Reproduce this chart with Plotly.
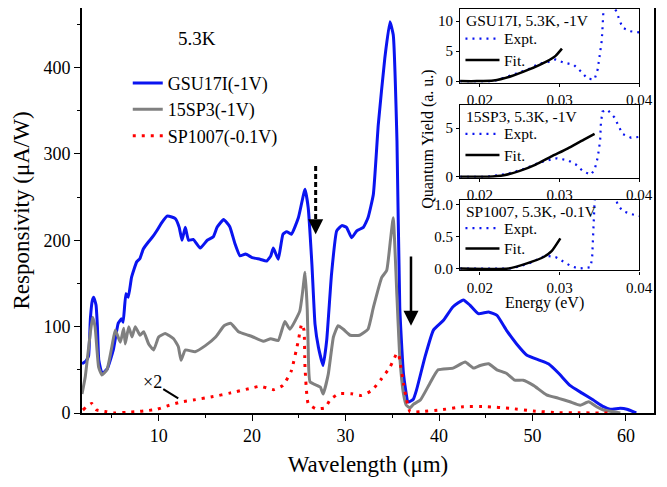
import plotly.graph_objects as go

# ---------------- main panel data ----------------
blue_x = [1.8, 2.2, 2.5, 2.7, 2.9, 3.05, 3.3, 3.45, 3.6, 3.95, 4.5, 5.15, 5.68, 6.04, 6.2, 6.5, 6.75,
          7.1, 7.65, 8.0, 8.36, 8.9, 9.43, 9.8, 10.3, 10.9, 11.4, 11.8, 12.2, 12.5, 12.85, 13.2,
          13.7, 14.45, 15.2, 15.85, 16.25, 16.95, 17.6, 18.2, 18.7, 19.3, 20.0, 20.85, 21.56, 22.0,
          22.27, 22.8, 23.3, 23.7, 24.2, 24.95, 25.66, 26.0, 26.4, 26.73, 27.1, 27.6, 27.98, 28.5,
          29.05, 29.6, 30.1, 30.65, 31.2, 31.9, 32.4, 32.97, 33.5, 34.2, 34.75, 35.1, 35.5, 35.8,
          36.2, 36.7, 37.25, 37.6, 38.5, 39.4, 40.45, 41.5, 42.6, 43.3, 44.2, 45.3, 46.2, 47.2,
          48.3, 49.4, 50.8, 51.7, 52.8, 54.0, 55.3, 56.5, 57.6, 58.3, 59.4, 60.1, 61.1]
blue_y = [57, 60, 66, 110, 130, 134, 125, 100, 61, 46, 51, 73, 104, 109, 105, 138, 134,
          157, 175, 179, 190, 198, 205, 211, 220, 228, 227, 225, 215, 200, 215, 200,
          201, 191, 200, 204, 215, 224, 216, 195, 182, 184, 180, 178, 176, 182,
          191, 178, 207, 210, 207, 226, 259, 238, 172, 103, 76, 55, 84, 161,
          211, 217, 215, 203, 211, 215, 226, 253, 334, 411, 453, 438, 315, 122,
          45, 12.7, 16, 27, 65, 96, 107, 123, 131, 125, 115, 117, 113, 96,
          80, 67, 61, 57, 46, 32, 23, 15, 7.3, 4.3, 5.4, 4.3, 0]

gray_x = [1.8, 2.15, 2.68, 2.94, 3.2, 3.58, 3.94, 4.47, 5.0, 5.36, 5.9, 6.26, 6.43, 6.8, 7.15, 7.5,
          8.0, 8.4, 8.93, 9.47, 10.0, 10.7, 11.6, 12.1, 12.4, 12.85, 13.9, 15.0, 16.1, 17.0, 17.7,
          18.55, 19.6, 20.1, 21.2, 22.0, 22.8, 23.5, 24.05, 25.1, 25.4, 25.66, 25.9, 26.0, 26.2,
          27.3, 27.6, 28.15, 28.7, 29.2, 29.76, 30.5, 31.5, 32.4, 32.97, 33.87, 34.4, 34.8, 35.1,
          35.5, 35.8, 36.2, 36.5, 36.9, 37.25, 38.0, 39.0, 39.9, 41.5, 42.8, 43.7, 44.4, 45.3,
          46.2, 47.2, 48.1, 49.0, 50.1, 51.5, 52.8, 54.0, 55.1, 56.0, 56.9, 57.6, 59.4]
gray_y = [22, 42, 92, 111, 100, 53, 44, 50, 77, 96, 82, 98, 80, 100, 88, 100,
          90, 94, 80, 73, 88, 92, 86, 77, 61, 73, 71, 78, 88, 101, 104,
          94, 90, 88, 83, 86, 84, 106, 97, 118, 140, 163, 120, 76, 36,
          30, 22, 45, 88, 101, 97, 90, 90, 97, 122, 157, 165, 200, 226,
          134, 65, 22, 9, 6, 10, 15, 34, 50, 52, 59, 52, 55, 57,
          50, 46, 38, 38, 32, 21, 17, 13, 9, 13, 7, 3.5, 0]

red_x = [1.9, 2.84, 3.37, 4.44, 5.33, 6.58, 7.65, 8.72, 9.8, 10.86, 12.47, 13.7, 15.85, 17.6, 19.8,
         20.85, 21.9, 22.3, 23.3, 24.2, 24.95, 25.3, 25.55, 25.66, 26.0, 26.8, 27.8, 28.4, 29.3,
         30.65, 31.7, 32.8, 33.87, 34.75, 35.46, 35.65, 35.8, 36.2, 36.5, 36.9, 38.0, 40.1, 42.6,
         45.1, 47.6, 50.1, 52.6, 55.0, 58.3]
red_y = [3.5, 11, 3.5, 1.5, 0, 0.8, 1.5, 2.7, 4.2, 8, 13, 15, 19, 23, 28.5,
         31, 28, 27, 32, 49, 84, 103, 96, 53, 11, 5, 6, 16, 22.5,
         22.3, 20.4, 26, 40, 53, 68.5, 69, 61, 34, 16.5, 1.5, 1.5, 3.5, 7.3,
         7.3, 5.4, 2.3, 0.4, 0.2, 0]

# ---------------- inset data (quantum yield vs energy) ----------------
e1_expt = [0.0175, 0.0196, 0.0217, 0.024, 0.0261, 0.0274, 0.0284, 0.0295, 0.0305, 0.0318, 0.0327,
           0.0335, 0.0344, 0.0348, 0.0351, 0.0353, 0.0354, 0.0355, 0.0362, 0.0371, 0.0379, 0.0389, 0.04]
q1_expt = [0, 0, 0, 1.0, 2.0, 2.9, 3.1, 3.6, 3.1, 2.7, 1.6, 0.4, 0.3, 2.0, 4.4, 6.7, 8.9, 11.4, 13.5,
           11.7, 8.9, 8.3, 8.1]
e1_fit = [0.0175, 0.0196, 0.0217, 0.024, 0.0261, 0.0284, 0.0295, 0.0303]
q1_fit = [0, 0, 0.1, 0.85, 1.9, 3.3, 4.2, 5.4]

e2_expt = [0.0175, 0.0208, 0.0235, 0.0255, 0.0276, 0.0297, 0.031, 0.032, 0.0329, 0.0339, 0.0344,
           0.0348, 0.0351, 0.0352, 0.0354, 0.036, 0.0369, 0.0379, 0.039, 0.04]
q2_expt = [0, 0, 0.3, 0.8, 1.5, 1.9, 1.7, 1.3, 0.6, 0.2, 0.7, 2.0, 3.7, 5.6, 6.7, 6.9, 6.1, 4.4, 4.0, 4.1]
e2_fit = [0.0175, 0.021, 0.023, 0.025, 0.027, 0.029, 0.031, 0.033, 0.0344]
q2_fit = [0, 0, 0.15, 0.6, 1.25, 2.1, 2.9, 3.8, 4.4]

e3_expt = [0.0175, 0.024, 0.0262, 0.0282, 0.0295, 0.0305, 0.0314, 0.0324, 0.0339, 0.0341, 0.0342,
           0.0343, 0.0344, 0.0346, 0.036, 0.0373, 0.0379, 0.039, 0.04]
q3_expt = [0, 0, 0.08, 0.2, 0.18, 0.1, 0.04, 0, 0.02, 0.18, 0.44, 0.7, 1.03, 1.3, 1.5, 1.0, 0.9, 0.85, 0.82]
e3_fit = [0.0175, 0.0236, 0.0259, 0.028, 0.029, 0.0301]
q3_fit = [0, 0, 0.08, 0.18, 0.27, 0.47]

inset_titles = ["GSU17I, 5.3K, -1V", "15SP3, 5.3K, -1V", "SP1007, 5.3K, -0.1V"]
series_names = ["GSU17I(-1V)", "15SP3(-1V)", "SP1007(-0.1V)"]

FONT = "'Liberation Serif', 'Times New Roman', 'DejaVu Serif', serif"


def f(size):
    return dict(family=FONT, size=size, color="black")


fig = go.Figure()

fig.add_trace(go.Scatter(x=blue_x, y=blue_y, mode="lines", name=series_names[0],
                         line=dict(color="#0a14f0", width=3, shape="spline", smoothing=0.4)))
fig.add_trace(go.Scatter(x=gray_x, y=gray_y, mode="lines", name=series_names[1],
                         line=dict(color="#808080", width=3, shape="spline", smoothing=0.4)))
fig.add_trace(go.Scatter(x=red_x, y=red_y, mode="lines", name=series_names[2],
                         line=dict(color="#ff0000", width=3, dash="3px,6px", shape="spline", smoothing=0.4)))

insets = [(e1_expt, q1_expt, e1_fit, q1_fit), (e2_expt, q2_expt, e2_fit, q2_fit),
          (e3_expt, q3_expt, e3_fit, q3_fit)]
for i, (ex, qx, ef, qf) in enumerate(insets):
    n = i + 2
    fig.add_trace(go.Scatter(x=ex, y=qx, mode="lines", showlegend=False, xaxis=f"x{n}", yaxis=f"y{n}",
                             line=dict(color="#0a14f0", width=2.2, dash="2px,5px")))
    fig.add_trace(go.Scatter(x=ef, y=qf, mode="lines", showlegend=False, xaxis=f"x{n}", yaxis=f"y{n}",
                             line=dict(color="black", width=2.5, shape="spline", smoothing=0.5)))

axis_common = dict(showline=True, linecolor="black", mirror=True, showgrid=False, zeroline=False,
                   ticks="outside", tickcolor="black", automargin=False)

# the page body adds an 8px offset, so the figure is sized/margined to compensate
fig.update_layout(
    width=659, height=479,
    margin=dict(l=74, r=13, t=0, b=74, autoexpand=False),
    paper_bgcolor="white", plot_bgcolor="white",
    font=f(18),
    showlegend=True,
    legend=dict(x=0.08, y=0.86, xanchor="left", yanchor="top", bgcolor="rgba(0,0,0,0)",
                font=f(18), tracegroupgap=0),
    xaxis=dict(**axis_common, range=[1.8, 63], tick0=0, dtick=10, ticklen=6, linewidth=1.6,
               minor=dict(ticks="outside", dtick=5, ticklen=3, tickcolor="black"),
               tickfont=f(18),
               title=dict(text="Wavelength (μm)", font=f(23), standoff=10)),
    yaxis=dict(**axis_common, range=[0, 469], tick0=0, dtick=100, ticklen=6, linewidth=1.6,
               minor=dict(ticks="outside", dtick=50, ticklen=3, tickcolor="black"),
               tickfont=f(18),
               title=dict(text="Responsivity (μA/W)", font=f(23), standoff=8)),
)

inset_doms = [[0.815, 0.9975], [0.581, 0.761], [0.352, 0.526]]
inset_yr = [dict(range=[-0.3, 12.0], tickvals=[0, 5, 10], ticktext=["0", "5", "10"]),
            dict(range=[-0.1, 7.4], tickvals=[0, 5], ticktext=["0", "5"]),
            dict(range=[-0.03, 1.07], tickvals=[0, 0.5, 1.0], ticktext=["0.0", "0.5", "1.0"])]
for i in range(3):
    n = i + 2
    fig.update_layout({
        f"xaxis{n}": dict(**axis_common, domain=[0.661, 0.974], anchor=f"y{n}", range=[0.0175, 0.04],
                          tickvals=[0.02, 0.03, 0.04], ticktext=["0.02", "0.03", "0.04"],
                          ticklen=3, linewidth=1.2, tickfont=f(15)),
        f"yaxis{n}": dict(**axis_common, domain=inset_doms[i], anchor=f"x{n}", ticklen=3, linewidth=1.2,
                          tickfont=f(15), **inset_yr[i]),
    })
    xd, yd = f"x{n} domain", f"y{n} domain"
    fig.add_annotation(xref=xd, yref=yd, x=0.02, y=0.84, text=inset_titles[i], showarrow=False,
                       xanchor="left", yanchor="middle", font=f(15.5))
    fig.add_shape(type="line", xref=xd, yref=yd, x0=0.03, x1=0.20, y0=0.60, y1=0.60,
                  line=dict(color="#0a14f0", width=2.2, dash="2px,5px"))
    fig.add_annotation(xref=xd, yref=yd, x=0.235, y=0.60, text="Expt.", showarrow=False,
                       xanchor="left", yanchor="middle", font=f(15.5))
    fig.add_shape(type="line", xref=xd, yref=yd, x0=0.03, x1=0.22, y0=0.31, y1=0.31,
                  line=dict(color="black", width=2.5))
    fig.add_annotation(xref=xd, yref=yd, x=0.235, y=0.31, text="Fit.", showarrow=False,
                       xanchor="left", yanchor="middle", font=f(15.5))

# inset axis titles
fig.add_annotation(xref="paper", yref="paper", x=0.605, y=0.675, text="Quantum Yield (a. u.)",
                   textangle=-90, showarrow=False, xanchor="center", yanchor="middle", font=f(16))
fig.add_annotation(xref="paper", yref="paper", x=0.809, y=0.271, text="Energy (eV)",
                   showarrow=False, xanchor="center", yanchor="middle", font=f(16))

# temperature label
fig.add_annotation(xref="paper", yref="paper", x=0.201, y=0.924, text="5.3K", showarrow=False,
                   xanchor="center", yanchor="middle", font=f(19))

# x2 label
fig.add_annotation(x=12.1, y=17, xref="x", yref="y", text="×2", showarrow=True, arrowhead=0,
                   arrowwidth=2, arrowcolor="black", ax=-26, ay=-16, font=f(18))

# dashed arrow
fig.add_shape(type="line", xref="x", yref="y", x0=26.8, x1=26.8, y0=286, y1=218,
              line=dict(color="black", width=3, dash="5px,3px"))
fig.add_annotation(x=26.8, y=207, xref="x", yref="y", ax=26.8, ay=222, axref="x", ayref="y",
                   text="", showarrow=True, arrowhead=2, arrowsize=1.2, arrowwidth=2.5, arrowcolor="black")
# solid arrow
fig.add_annotation(x=37.0, y=101, xref="x", yref="y", ax=37.0, ay=183, axref="x", ayref="y",
                   text="", showarrow=True, arrowhead=2, arrowsize=1.2, arrowwidth=2.5, arrowcolor="black")

fig.write_html("out.html")
